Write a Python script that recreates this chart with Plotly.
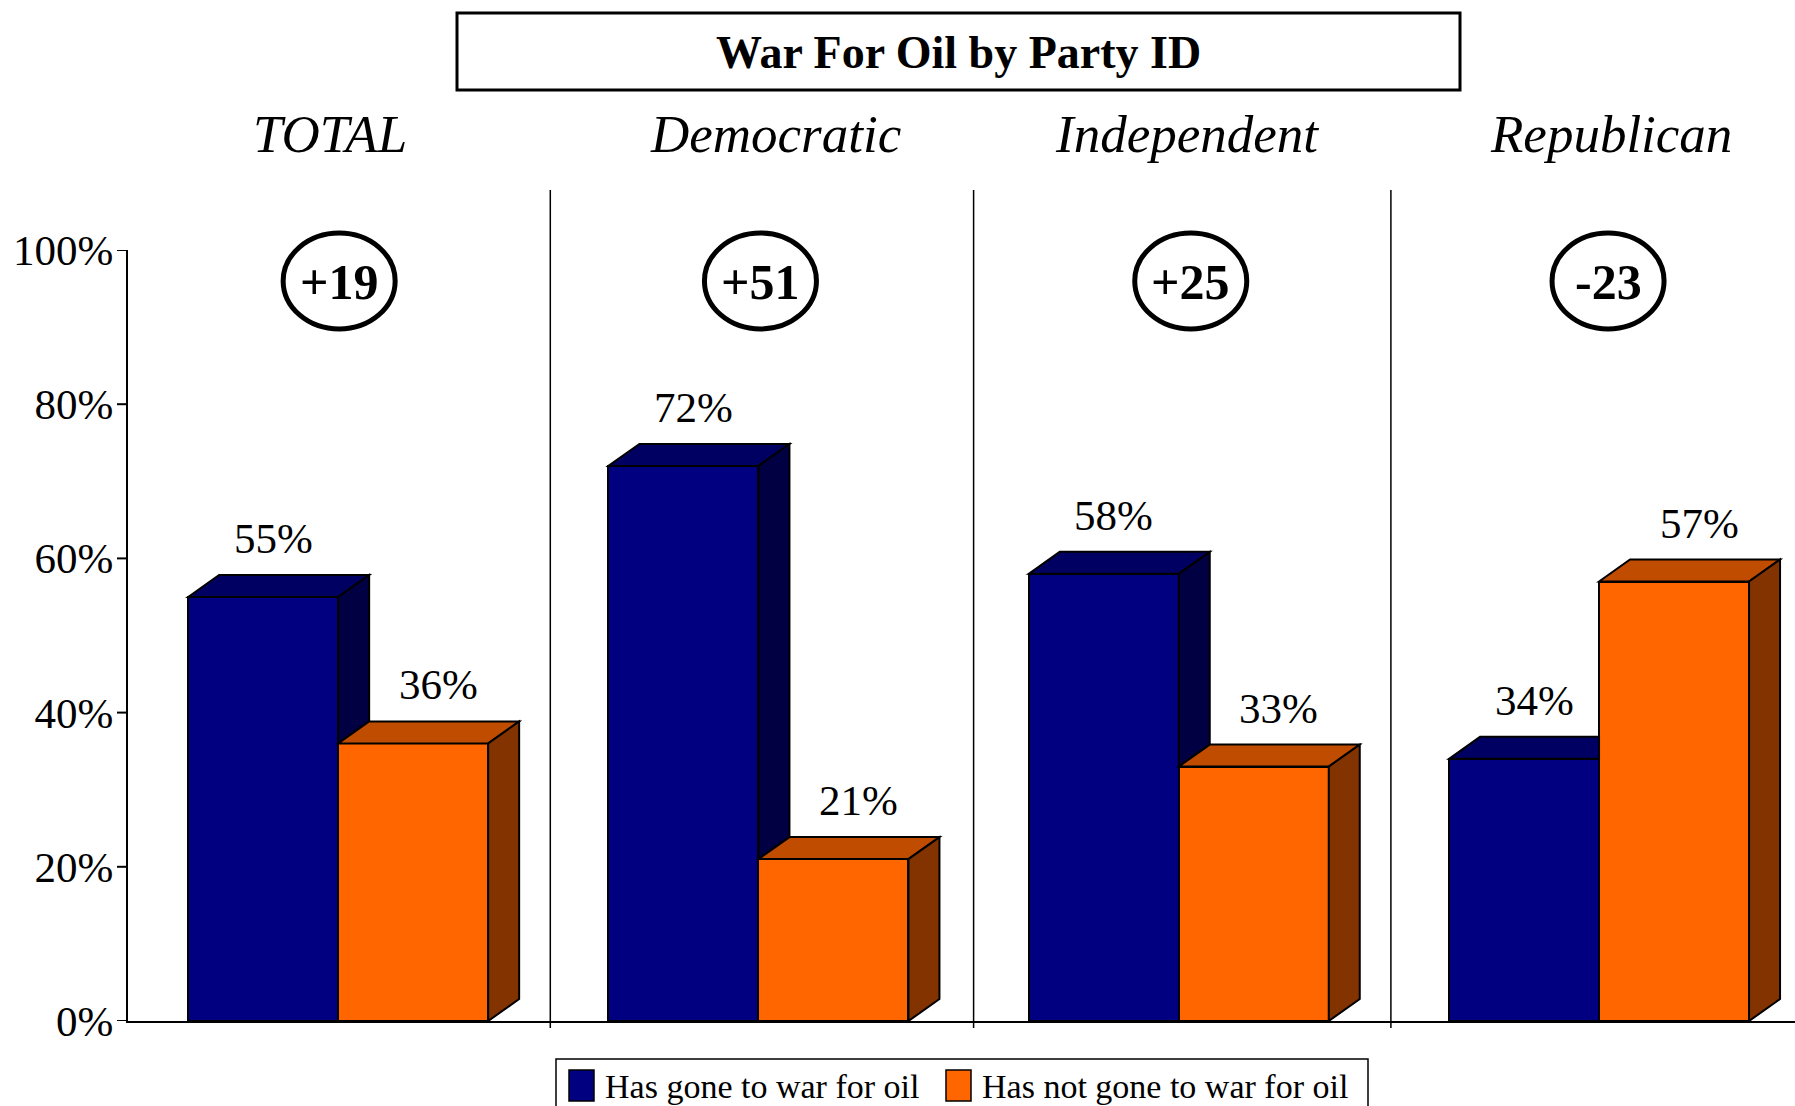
import plotly.graph_objects as go

# ---------------- data ----------------
categories = ["TOTAL", "Democratic", "Independent", "Republican"]
gone = [55, 72, 58, 34]
not_gone = [36, 21, 33, 57]
series_names = ["Has gone to war for oil", "Has not gone to war for oil"]
tick_vals = [0, 20, 40, 60, 80, 100]
tick_text = ["0%", "20%", "40%", "60%", "80%", "100%"]
title_text = "War For Oil by Party ID"

# ---------------- styling ----------------
FONT = "Liberation Serif, Times New Roman, serif"
W, H = 1795, 1106
ML, MR, MT, MB = 128, 0, 250, 85
PW, PH = W - ML - MR, H - MT - MB
CAT_PX = 420.3                      # pixels per category
X_LO = -0.5
X_HI = X_LO + PW / CAT_PX
BW = 150 / CAT_PX                   # front face width (data units)
DDX = 31 / CAT_PX                   # 3D depth offset x
DDY = 22 / PH * 100                 # 3D depth offset y (in %)

# small per-panel pixel nudges for header texts / ellipses
LABEL_NUDGE = [-8, 17, 8, 12]
ELLIPSE_NUDGE = [1, 2, 12, 9]
DIVIDER_NUDGE = [2, 5, 2]

BLUE = dict(front="#000080", top="#000063", side="#000042")
ORANGE = dict(front="#FF6600", top="#C04C00", side="#823300")
COLORS = [BLUE, ORANGE]
EDGE = dict(color="black", width=2)


def px_x(p):  # pixel -> paper x
    return (p - ML) / PW


def px_y(p):  # pixel -> paper y
    return (H - MB - p) / PH


fig = go.Figure()
xs = list(range(len(categories)))

fig.add_trace(go.Bar(x=[i - BW / 2 for i in xs], y=gone, width=BW,
                     name=series_names[0], marker=dict(color=BLUE["front"], line=EDGE),
                     hoverinfo="skip", showlegend=False))
fig.add_trace(go.Bar(x=[i + BW / 2 for i in xs], y=not_gone, width=BW,
                     name=series_names[1], marker=dict(color=ORANGE["front"], line=EDGE),
                     hoverinfo="skip", showlegend=False))

shapes = []
annotations = []


def poly(pts, color):
    d = "M " + " L ".join(f"{x},{y}" for x, y in pts) + " Z"
    return dict(type="path", path=d, xref="x", yref="y", fillcolor=color,
                line=dict(color="black", width=2), layer="above")


def text(x, y, s, size, xref="paper", yref="paper", **kw):
    d = dict(x=x, y=y, xref=xref, yref=yref, text=s, showarrow=False,
             xanchor="center", yanchor="middle",
             font=dict(family=FONT, size=size, color="black"))
    d.update(kw)
    return d


for i, (v1, v2) in enumerate(zip(gone, not_gone)):
    # blue bar (left)
    xl, xr = i - BW, i
    if v1 > v2:
        shapes.append(poly([(xl, v1), (xl + DDX, v1 + DDY), (xr + DDX, v1 + DDY), (xr, v1)], BLUE["top"]))
        shapes.append(poly([(xr, v2), (xr + DDX, v2 + DDY), (xr + DDX, v1 + DDY), (xr, v1)], BLUE["side"]))
    else:
        shapes.append(poly([(xl, v1), (xl + DDX, v1 + DDY), (xr, v1 + DDY), (xr, v1)], BLUE["top"]))
    # orange bar (right)
    xl, xr = i, i + BW
    shapes.append(poly([(xl, v2), (xl + DDX, v2 + DDY), (xr + DDX, v2 + DDY), (xr, v2)], ORANGE["top"]))
    shapes.append(poly([(xr, 0), (xr + DDX, DDY), (xr + DDX, v2 + DDY), (xr, v2)], ORANGE["side"]))

    # value labels
    annotations.append(text(i - BW / 2 + 10 / CAT_PX, v1 + DDY, f"{v1}%", 43, "x", "y",
                            yanchor="bottom", yshift=11))
    annotations.append(text(i + BW / 2 + 25 / CAT_PX, v2 + DDY, f"{v2}%", 43, "x", "y",
                            yanchor="bottom", yshift=11))

    # difference ellipse
    diff = v1 - v2
    cx = i + ELLIPSE_NUDGE[i] / CAT_PX
    shapes.append(dict(type="circle", xref="x", yref="paper",
                       x0=cx - 56 / CAT_PX, x1=cx + 56 / CAT_PX,
                       y0=px_y(329), y1=px_y(233),
                       line=dict(color="black", width=5), layer="above"))
    annotations.append(text(cx, px_y(282), f"<b>{diff:+d}</b>", 50, "x", "paper"))

    # category label
    annotations.append(text(i + LABEL_NUDGE[i] / CAT_PX, px_y(134), f"<i>{categories[i]}</i>",
                            53, "x", "paper"))

# dividers between categories
for i in xs[:-1]:
    xd = i + 0.5 + DIVIDER_NUDGE[i] / CAT_PX
    shapes.append(dict(type="line", xref="x", yref="paper", x0=xd, x1=xd,
                       y0=px_y(1028), y1=px_y(190), line=dict(color="black", width=1.5)))

# y-axis tick marks (outside)
for v in tick_vals:
    shapes.append(dict(type="line", xref="paper", yref="y", x0=px_x(117), x1=px_x(128),
                       y0=v, y1=v, line=dict(color="black", width=2)))

# title box
shapes.append(dict(type="rect", xref="paper", yref="paper",
                   x0=px_x(457), x1=px_x(1460), y0=px_y(90), y1=px_y(13),
                   line=dict(color="black", width=3), fillcolor="white", layer="below"))
annotations.append(text(px_x(958), px_y(52), f"<b>{title_text}</b>", 46))

# legend box (drawn as layout decoration)
shapes.append(dict(type="rect", xref="paper", yref="paper",
                   x0=px_x(556), x1=px_x(1368), y0=px_y(1110), y1=px_y(1059),
                   line=dict(color="black", width=1.5), fillcolor="white", layer="below"))
legend_swatch_x = [569, 946]
legend_text_x = [603, 980]
for k in range(2):
    shapes.append(dict(type="rect", xref="paper", yref="paper",
                       x0=px_x(legend_swatch_x[k]), x1=px_x(legend_swatch_x[k] + 25),
                       y0=px_y(1101), y1=px_y(1070),
                       line=dict(color="black", width=1.5), fillcolor=COLORS[k]["front"]))
    annotations.append(text(px_x(legend_text_x[k]), px_y(1086), series_names[k], 34,
                            xanchor="left"))

fig.update_layout(
    width=W, height=H,
    margin=dict(l=ML, r=MR, t=MT, b=MB, pad=0),
    paper_bgcolor="white", plot_bgcolor="white",
    barmode="overlay", bargap=0,
    font=dict(family=FONT, color="black"),
    shapes=shapes, annotations=annotations,
    showlegend=False,
    xaxis=dict(range=[X_LO, X_HI], showgrid=False, zeroline=False, showticklabels=False,
               showline=True, linecolor="black", linewidth=2, ticks="", fixedrange=True),
    yaxis=dict(range=[0, 100], tickvals=tick_vals, ticktext=tick_text, showgrid=False,
               zeroline=False, showline=True, linecolor="black", linewidth=2,
               ticks="", ticklabelstandoff=4,
               tickfont=dict(family=FONT, size=43, color="black"), fixedrange=True),
)

fig.write_html("out.html", config={"displayModeBar": False},
               post_script="document.body.style.margin='0';document.body.style.overflow='hidden';")
